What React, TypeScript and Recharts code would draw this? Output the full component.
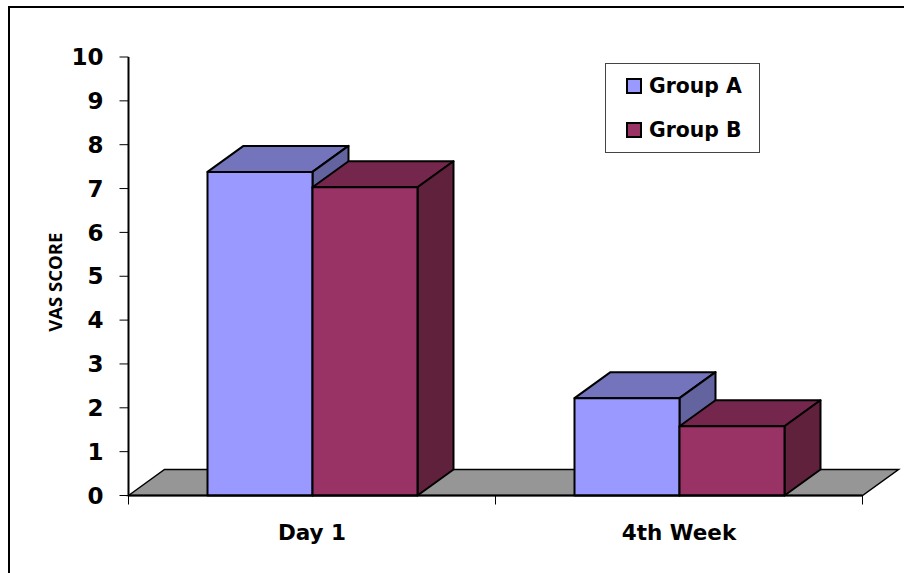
import React from 'react';
import { Bar, BarChart, Legend, ReferenceArea, XAxis, YAxis } from 'recharts';

const categories = ['Day 1', '4th Week'];
const groupA = [7.38, 2.22];
const groupB = [7.03, 1.58];
const yTicks = [0, 1, 2, 3, 4, 5, 6, 7, 8, 9, 10];
// Positions of the category boundaries, on a helper axis running from 0 to 2.
const edgePositions = [0, 2];
const edgeTicks = [0, 1, 2];

const rows = categories.map((name, i) => ({ name, groupA: groupA[i], groupB: groupB[i], edge: edgePositions[i] }));

const DEPTH_X = 36;
const DEPTH_Y = 26;
const FONT = '"DejaVu Sans", sans-serif';

const poly = (pts: number[][]) => pts.map((p) => p.join(',')).join(' ');

// Extruded column: front face plus top and side faces offset by the depth vector.
const makeBox = (front: string, top: string, side: string) => (props: any) => {
  const { x, y, width, height } = props;
  const r = x + width;
  const b = y + height;
  const edge = { stroke: '#000', strokeWidth: 2, strokeLinejoin: 'round' as const };
  return (
    <g>
      <polygon points={poly([[x, y], [x + DEPTH_X, y - DEPTH_Y], [r + DEPTH_X, y - DEPTH_Y], [r, y]])} fill={top} {...edge} />
      <polygon points={poly([[r, y], [r + DEPTH_X, y - DEPTH_Y], [r + DEPTH_X, b - DEPTH_Y], [r, b]])} fill={side} {...edge} />
      <rect x={x} y={y} width={width} height={height} fill={front} {...edge} />
    </g>
  );
};

// Grey floor of the 3D plot, sheared by the same depth vector.
const Floor = (props: any) => {
  const { x, y, width } = props;
  return (
    <polygon
      points={poly([[x, y], [x + DEPTH_X, y - DEPTH_Y], [x + width + DEPTH_X, y - DEPTH_Y], [x + width, y]])}
      fill="#969696"
      stroke="#000"
      strokeWidth={1.5}
    />
  );
};

const LegendBox = () => (
  <div
    style={{
      width: 155,
      height: 90,
      boxSizing: 'border-box',
      border: '1.5px solid #444',
      background: '#fff',
      fontFamily: FONT,
      fontWeight: 700,
      fontSize: 20.4,
      color: '#000',
      position: 'relative',
    }}
  >
    {[
      { label: 'Group A', color: '#9999ff', top: 14 },
      { label: 'Group B', color: '#993366', top: 58 },
    ].map((item) => (
      <div key={item.label} style={{ position: 'absolute', left: 20, top: item.top, display: 'flex', alignItems: 'center', height: 16 }}>
        <span style={{ width: 16, height: 16, boxSizing: 'border-box', border: '2px solid #000', background: item.color, marginRight: 7 }} />
        <span style={{ lineHeight: '16px' }}>{item.label}</span>
      </div>
    ))}
  </div>
);

export default function App() {
  return (
    <div style={{ position: 'absolute', left: 0, top: 0, width: 904, height: 573, overflow: 'hidden', background: '#fff' }}>
      <div style={{ position: 'absolute', left: 8, top: 6, right: -10, bottom: -10, borderTop: '2px solid #000', borderLeft: '2px solid #000' }} />
      <BarChart
        width={904}
        height={573}
        data={rows}
        barSize={105}
        barGap={0}
        margin={{ top: 57, right: 41.5, bottom: 37.5, left: 68.5 }}
        style={{ position: 'absolute', left: 0, top: 0 }}
      >
        <XAxis
          xAxisId="edges"
          dataKey="edge"
          type="number"
          domain={[0, 2]}
          ticks={edgeTicks}
          interval={0}
          tick={() => <g />}
          height={1}
          axisLine={{ stroke: '#000', strokeWidth: 2 }}
          tickLine={{ stroke: '#000', strokeWidth: 1 }}
          tickSize={9}
        />
        <XAxis
          xAxisId="labels"
          dataKey="name"
          height={39}
          axisLine={false}
          tickLine={false}
          tickMargin={22}
          tick={{ fill: '#000', fontFamily: FONT, fontWeight: 700, fontSize: 21.5 }}
        />
        <YAxis
          type="number"
          domain={[0, 10]}
          ticks={yTicks}
          width={60}
          interval={0}
          axisLine={{ stroke: '#000', strokeWidth: 2 }}
          tickLine={{ stroke: '#000', strokeWidth: 1 }}
          tickSize={9}
          tickMargin={16}
          tick={{ fill: '#000', fontFamily: FONT, fontWeight: 700, fontSize: 23 }}
          label={{
            value: 'VAS SCORE',
            angle: -90,
            position: 'insideLeft',
            offset: -13,
            dy: 6,
            style: { fill: '#000', fontFamily: '"Open Sans", sans-serif', fontWeight: 700, fontSize: 18.5, textAnchor: 'middle' },
          }}
        />
        <ReferenceArea xAxisId="edges" x1={0} x2={2} y1={0} y2={0} ifOverflow="visible" shape={<Floor />} />
        <Bar dataKey="groupA" name="Group A" xAxisId="labels" isAnimationActive={false} shape={makeBox('#9999ff', '#7474bc', '#6363a0')} />
        <Bar dataKey="groupB" name="Group B" xAxisId="labels" isAnimationActive={false} shape={makeBox('#993366', '#74264d', '#60213c')} />
        <Legend
          content={<LegendBox />}
          layout="vertical"
          verticalAlign="middle"
          align="center"
          wrapperStyle={{ position: 'absolute', left: 605, top: 63, width: 155, height: 90 }}
        />
      </BarChart>
    </div>
  );
}
